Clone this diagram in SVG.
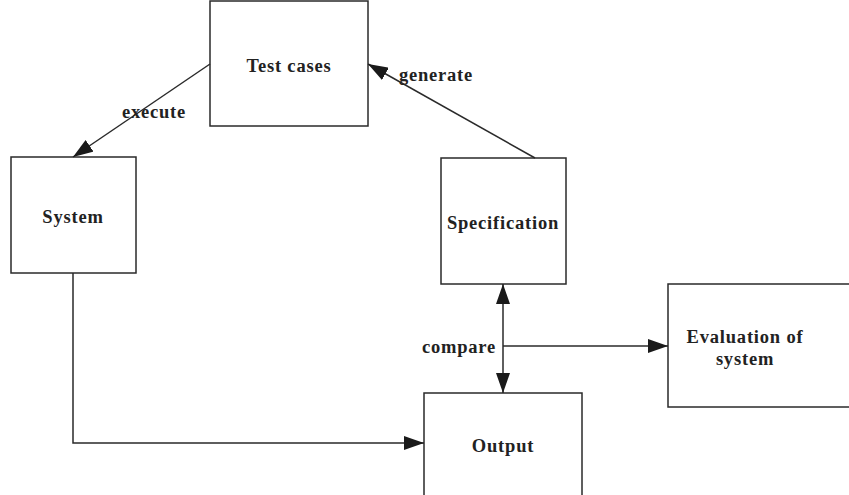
<svg xmlns="http://www.w3.org/2000/svg" width="849" height="495" viewBox="0 0 849 495">
<defs>
<marker id="ah" viewBox="0 0 20 14" refX="20" refY="7" markerWidth="20" markerHeight="14" markerUnits="userSpaceOnUse" orient="auto-start-reverse">
<path d="M0,0 L20,7 L0,14 Z" fill="#1a1a1a"/>
</marker>
</defs>
<style>
.box{fill:#fff;stroke:#2a2a2a;stroke-width:1.5}
.t{font-family:"Liberation Serif","Times New Roman",serif;font-weight:bold;font-size:18.5px;fill:#222;text-anchor:middle;letter-spacing:0.8px}
.c{fill:none;stroke:#2a2a2a;stroke-width:1.5}
</style>
<rect width="849" height="495" fill="#fff"/>
<g id="test-cases"><rect class="box" x="210" y="1" width="158" height="125"/><text class="t" x="289" y="72">Test cases</text></g>
<g id="system"><rect class="box" x="11" y="157" width="125" height="116"/><text class="t" x="73" y="223">System</text></g>
<g id="specification"><rect class="box" x="441" y="158" width="125" height="126"/><text class="t" x="503" y="229">Specification</text></g>
<g id="output"><rect class="box" x="424" y="393" width="158" height="110"/><text class="t" x="503" y="452">Output</text></g>
<g id="evaluation"><rect class="box" x="668" y="284" width="190" height="123"/><text class="t" x="745" y="343">Evaluation of</text><text class="t" x="745" y="365">system</text></g>
<g id="connectors">
<path class="c" d="M210,64 L73,157" marker-end="url(#ah)"/>
<path class="c" d="M535,158 L368,64" marker-end="url(#ah)"/>
<path class="c" d="M73,273 L73,443 L424,443" marker-end="url(#ah)"/>
<path class="c" d="M503,284 L503,393" marker-start="url(#ah)" marker-end="url(#ah)"/>
<path class="c" d="M503,346 L668,346" marker-end="url(#ah)"/>
<text class="t" x="154" y="118">execute</text>
<text class="t" x="436" y="81">generate</text>
<text class="t" x="459" y="353">compare</text>
</g>
</svg>
